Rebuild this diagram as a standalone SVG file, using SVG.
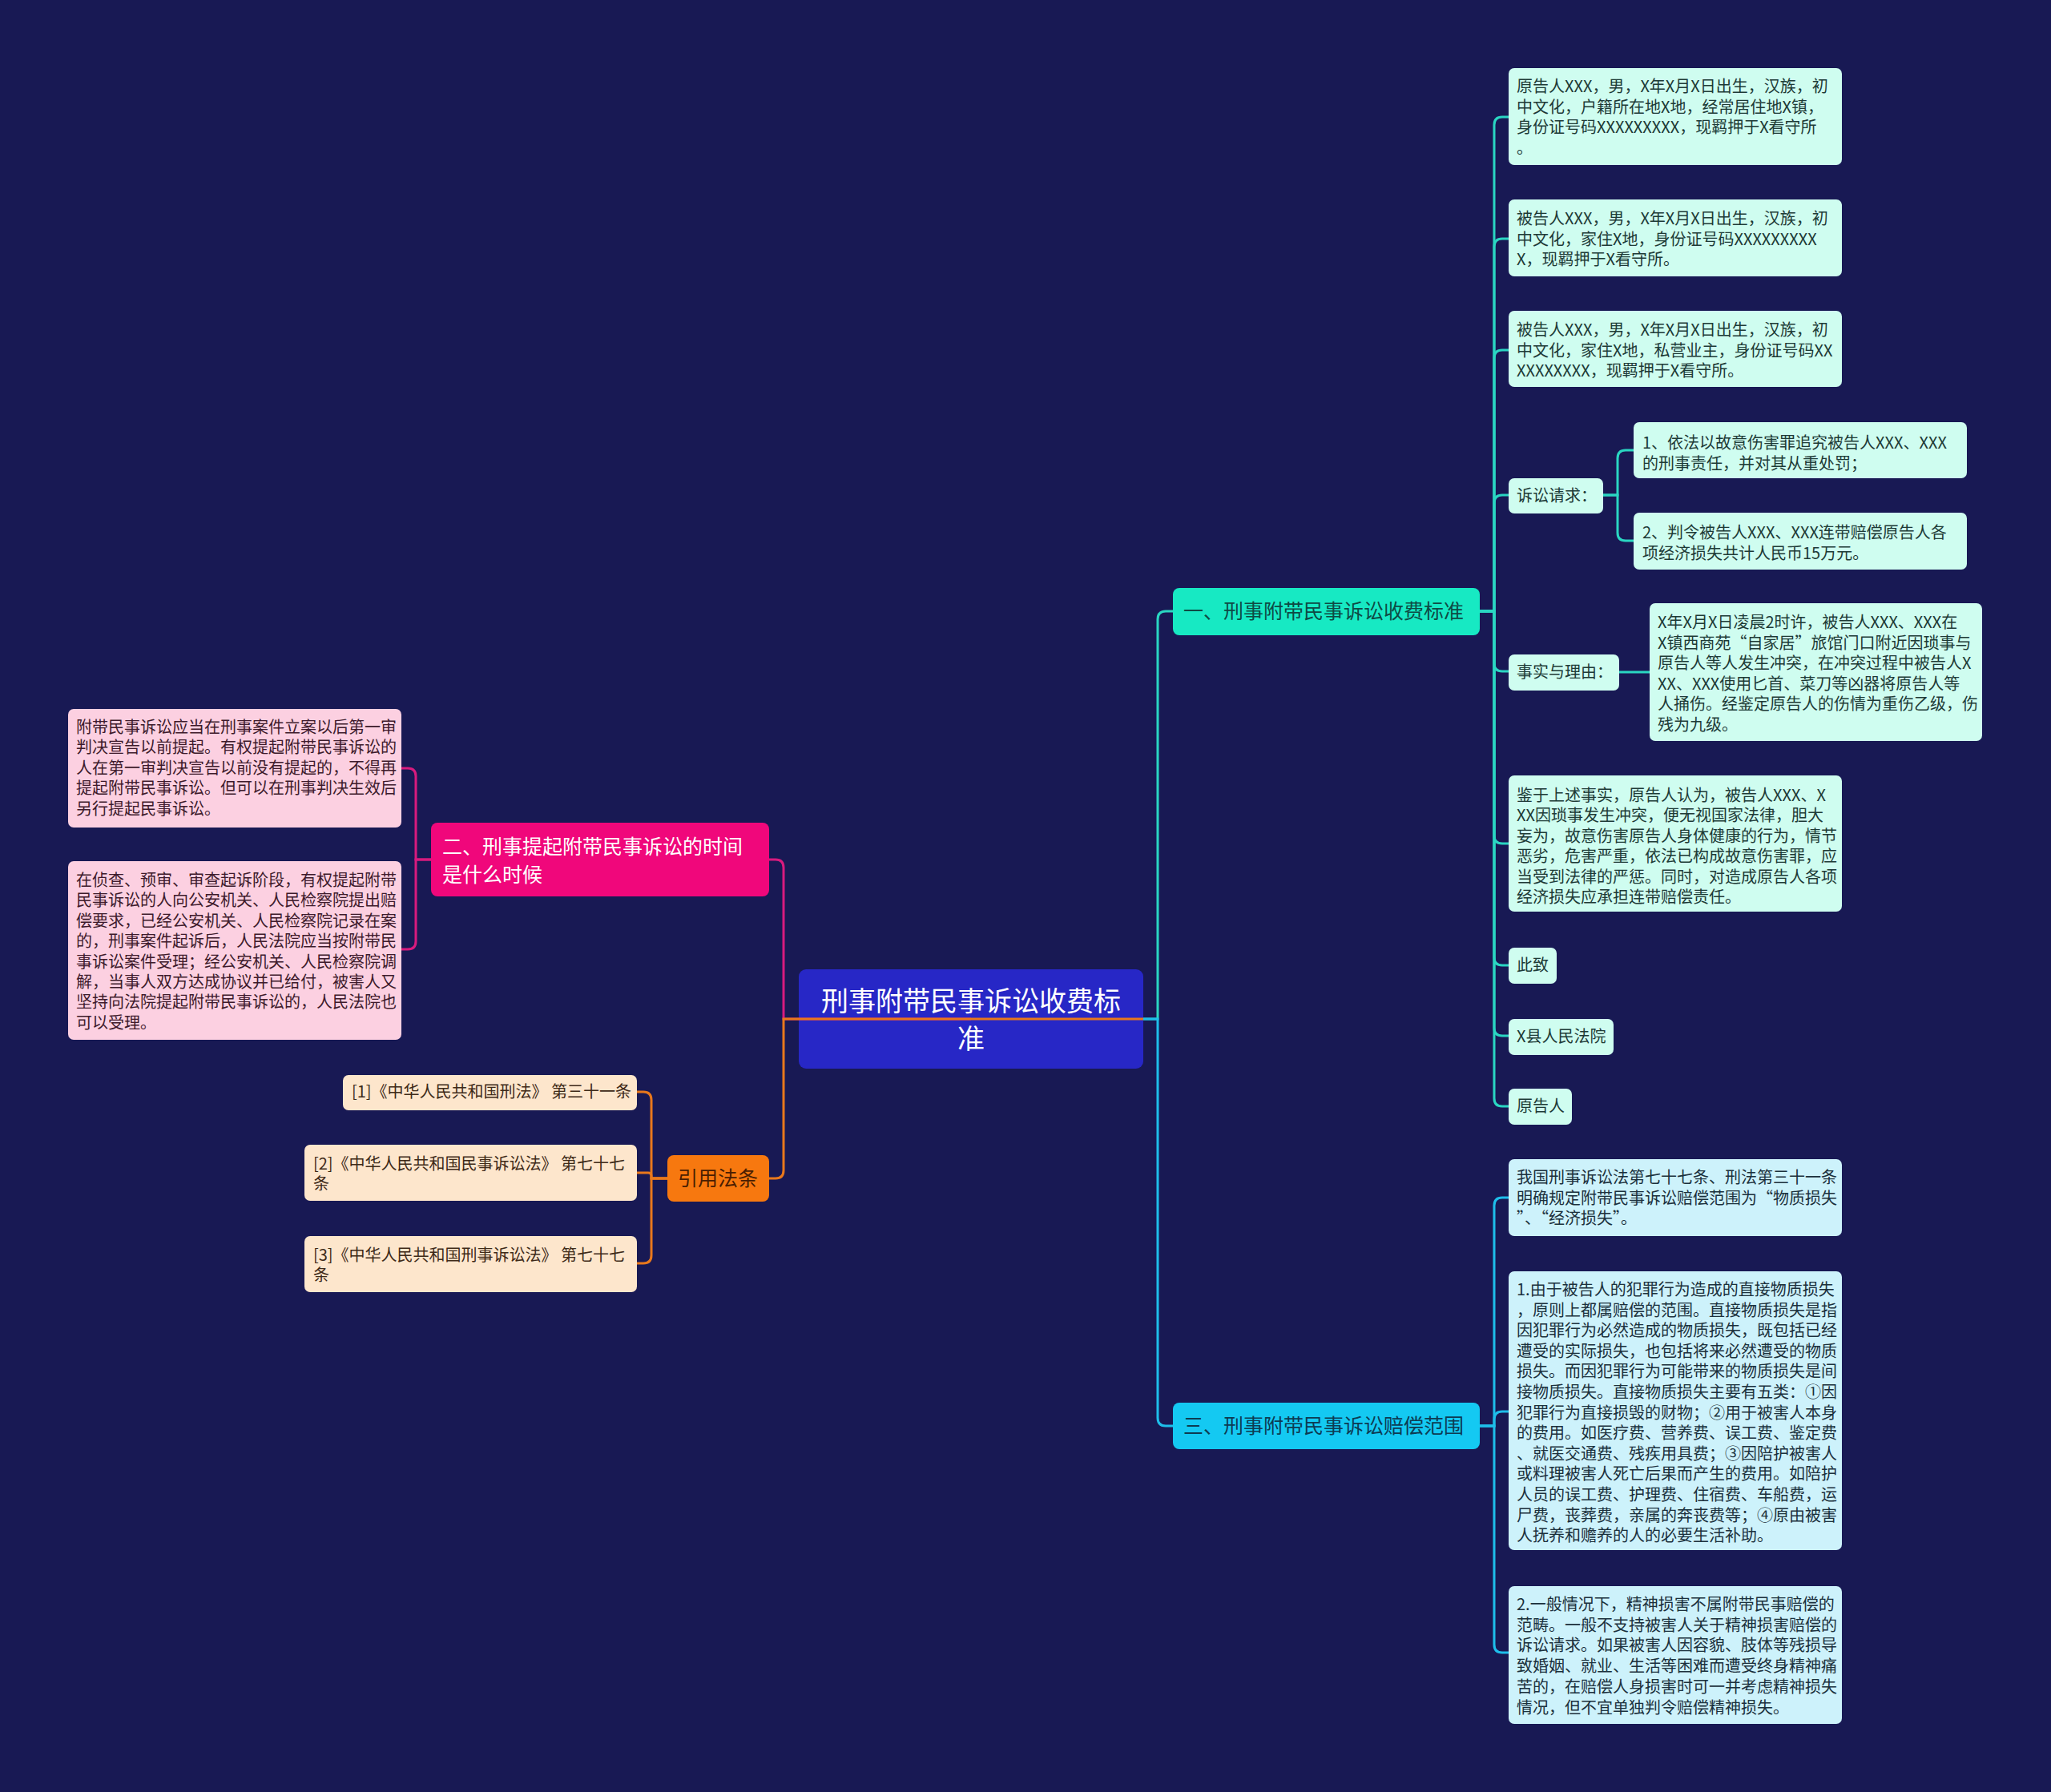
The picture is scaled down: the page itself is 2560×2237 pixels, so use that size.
<svg xmlns="http://www.w3.org/2000/svg" width="2560" height="2237" viewBox="0 0 2560 2237">
<style>
text{font-family:"Noto Sans CJK SC","Liberation Sans",sans-serif}
.s20{font-size:20px}
.s25{font-size:25px}
.s34{font-size:34px}
.mint rect{fill:#cffdf0}.mint text{fill:#1d3a36}
.sky rect{fill:#cdf2fb}.sky text{fill:#1b303c}
.rose rect{fill:#fcd0e1}.rose text{fill:#3d1a2b}
.peach rect{fill:#fde6cc}.peach text{fill:#3e2a18}
.c{fill:none;stroke-width:3}
.cg{stroke:#2ad6c2}.cb{stroke:#1ebeea}.cp{stroke:#d81b7e}.co{stroke:#e8781c}
</style>
<rect width="2560" height="2237" fill="#181954"/>

<g id="root"><rect x="997" y="1210" width="430" height="124" rx="9" fill="#2727c6"/>
<text class="s34" fill="#ffffff" text-anchor="middle"><tspan x="1212" y="1262">刑事附带民事诉讼收费标</tspan><tspan x="1212" y="1309">准</tspan></text></g>

<g id="b1"><rect x="1464" y="734" width="383" height="59" rx="8" fill="#17e9c3"/>
<text class="s25" x="1477" y="772" fill="#0e4a44">一、刑事附带民事诉讼收费标准</text></g>

<g id="b1n1" class="mint"><rect x="1883" y="85" width="416" height="121" rx="7"/>
<text class="s20"><tspan x="1893" y="115">原告人XXX，男，X年X月X日出生，汉族，初</tspan><tspan x="1893" dy="25.6">中文化，户籍所在地X地，经常居住地X镇，</tspan><tspan x="1893" dy="25.6">身份证号码XXXXXXXXX，现羁押于X看守所</tspan><tspan x="1893" dy="25.6">。</tspan></text></g>

<g id="b1n2" class="mint"><rect x="1883" y="249" width="416" height="96" rx="7"/>
<text class="s20"><tspan x="1893" y="280">被告人XXX，男，X年X月X日出生，汉族，初</tspan><tspan x="1893" dy="25.6">中文化，家住X地，身份证号码XXXXXXXXX</tspan><tspan x="1893" dy="25.6">X，现羁押于X看守所。</tspan></text></g>

<g id="b1n3" class="mint"><rect x="1883" y="388" width="416" height="95" rx="7"/>
<text class="s20"><tspan x="1893" y="419">被告人XXX，男，X年X月X日出生，汉族，初</tspan><tspan x="1893" dy="25.6">中文化，家住X地，私营业主，身份证号码XX</tspan><tspan x="1893" dy="25.6">XXXXXXXX，现羁押于X看守所。</tspan></text></g>

<g id="b1n4" class="mint"><rect x="1883" y="597" width="118" height="44" rx="7"/>
<text class="s20" x="1893" y="626">诉讼请求：</text></g>

<g id="b1n4a" class="mint"><rect x="2039" y="527" width="416" height="70" rx="7"/>
<text class="s20"><tspan x="2050" y="560">1、依法以故意伤害罪追究被告人XXX、XXX</tspan><tspan x="2050" dy="25.6">的刑事责任，并对其从重处罚；</tspan></text></g>

<g id="b1n4b" class="mint"><rect x="2039" y="640" width="416" height="71" rx="7"/>
<text class="s20"><tspan x="2050" y="672">2、判令被告人XXX、XXX连带赔偿原告人各</tspan><tspan x="2050" dy="25.6">项经济损失共计人民币15万元。</tspan></text></g>

<g id="b1n5" class="mint"><rect x="1883" y="817" width="138" height="45" rx="7"/>
<text class="s20" x="1893" y="846">事实与理由：</text></g>

<g id="b1n5a" class="mint"><rect x="2059" y="753" width="415" height="172" rx="7"/>
<text class="s20"><tspan x="2069" y="784">X年X月X日凌晨2时许，被告人XXX、XXX在</tspan><tspan x="2069" dy="25.6">X镇西商苑“自家居”旅馆门口附近因琐事与</tspan><tspan x="2069" dy="25.6">原告人等人发生冲突，在冲突过程中被告人X</tspan><tspan x="2069" dy="25.6">XX、XXX使用匕首、菜刀等凶器将原告人等</tspan><tspan x="2069" dy="25.6">人捅伤。经鉴定原告人的伤情为重伤乙级，伤</tspan><tspan x="2069" dy="25.6">残为九级。</tspan></text></g>

<g id="b1n6" class="mint"><rect x="1883" y="968" width="416" height="170" rx="7"/>
<text class="s20"><tspan x="1893" y="1000">鉴于上述事实，原告人认为，被告人XXX、X</tspan><tspan x="1893" dy="25.4">XX因琐事发生冲突，便无视国家法律，胆大</tspan><tspan x="1893" dy="25.4">妄为，故意伤害原告人身体健康的行为，情节</tspan><tspan x="1893" dy="25.4">恶劣，危害严重，依法已构成故意伤害罪，应</tspan><tspan x="1893" dy="25.4">当受到法律的严惩。同时，对造成原告人各项</tspan><tspan x="1893" dy="25.4">经济损失应承担连带赔偿责任。</tspan></text></g>

<g id="b1n7" class="mint"><rect x="1883" y="1183" width="60" height="45" rx="7"/>
<text class="s20" x="1893" y="1212">此致</text></g>

<g id="b1n8" class="mint"><rect x="1883" y="1272" width="131" height="45" rx="7"/>
<text class="s20" x="1893" y="1301">X县人民法院</text></g>

<g id="b1n9" class="mint"><rect x="1883" y="1359" width="79" height="45" rx="7"/>
<text class="s20" x="1893" y="1388">原告人</text></g>

<g id="b3"><rect x="1464" y="1751" width="383" height="58" rx="8" fill="#14c9f2"/>
<text class="s25" x="1477" y="1789" fill="#0d3b52">三、刑事附带民事诉讼赔偿范围</text></g>

<g id="b3n1" class="sky"><rect x="1883" y="1447" width="416" height="96" rx="7"/>
<text class="s20"><tspan x="1893" y="1477">我国刑事诉讼法第七十七条、刑法第三十一条</tspan><tspan x="1893" dy="25.6">明确规定附带民事诉讼赔偿范围为“物质损失</tspan><tspan x="1893" dy="25.6">”、“经济损失”。</tspan></text></g>

<g id="b3n2" class="sky"><rect x="1883" y="1587" width="416" height="348" rx="7"/>
<text class="s20"><tspan x="1893" y="1617">1.由于被告人的犯罪行为造成的直接物质损失</tspan><tspan x="1893" dy="25.6">，原则上都属赔偿的范围。直接物质损失是指</tspan><tspan x="1893" dy="25.6">因犯罪行为必然造成的物质损失，既包括已经</tspan><tspan x="1893" dy="25.6">遭受的实际损失，也包括将来必然遭受的物质</tspan><tspan x="1893" dy="25.6">损失。而因犯罪行为可能带来的物质损失是间</tspan><tspan x="1893" dy="25.6">接物质损失。直接物质损失主要有五类：①因</tspan><tspan x="1893" dy="25.6">犯罪行为直接损毁的财物；②用于被害人本身</tspan><tspan x="1893" dy="25.6">的费用。如医疗费、营养费、误工费、鉴定费</tspan><tspan x="1893" dy="25.6">、就医交通费、残疾用具费；③因陪护被害人</tspan><tspan x="1893" dy="25.6">或料理被害人死亡后果而产生的费用。如陪护</tspan><tspan x="1893" dy="25.6">人员的误工费、护理费、住宿费、车船费，运</tspan><tspan x="1893" dy="25.6">尸费，丧葬费，亲属的奔丧费等；④原由被害</tspan><tspan x="1893" dy="25.6">人抚养和赡养的人的必要生活补助。</tspan></text></g>

<g id="b3n3" class="sky"><rect x="1883" y="1980" width="416" height="172" rx="7"/>
<text class="s20"><tspan x="1893" y="2010">2.一般情况下，精神损害不属附带民事赔偿的</tspan><tspan x="1893" dy="25.7">范畴。一般不支持被害人关于精神损害赔偿的</tspan><tspan x="1893" dy="25.7">诉讼请求。如果被害人因容貌、肢体等残损导</tspan><tspan x="1893" dy="25.7">致婚姻、就业、生活等困难而遭受终身精神痛</tspan><tspan x="1893" dy="25.7">苦的，在赔偿人身损害时可一并考虑精神损失</tspan><tspan x="1893" dy="25.7">情况，但不宜单独判令赔偿精神损失。</tspan></text></g>

<g id="b2"><rect x="538" y="1027" width="422" height="92" rx="8" fill="#f0077b"/>
<text class="s25" fill="#ffffff"><tspan x="552" y="1066">二、刑事提起附带民事诉讼的时间</tspan><tspan x="552" y="1101">是什么时候</tspan></text></g>

<g id="b2n1" class="rose"><rect x="85" y="885" width="416" height="148" rx="7"/>
<text class="s20"><tspan x="95" y="915">附带民事诉讼应当在刑事案件立案以后第一审</tspan><tspan x="95" dy="25.4">判决宣告以前提起。有权提起附带民事诉讼的</tspan><tspan x="95" dy="25.4">人在第一审判决宣告以前没有提起的，不得再</tspan><tspan x="95" dy="25.4">提起附带民事诉讼。但可以在刑事判决生效后</tspan><tspan x="95" dy="25.4">另行提起民事诉讼。</tspan></text></g>

<g id="b2n2" class="rose"><rect x="85" y="1075" width="416" height="223" rx="7"/>
<text class="s20"><tspan x="95" y="1106">在侦查、预审、审查起诉阶段，有权提起附带</tspan><tspan x="95" dy="25.4">民事诉讼的人向公安机关、人民检察院提出赔</tspan><tspan x="95" dy="25.4">偿要求，已经公安机关、人民检察院记录在案</tspan><tspan x="95" dy="25.4">的，刑事案件起诉后，人民法院应当按附带民</tspan><tspan x="95" dy="25.4">事诉讼案件受理；经公安机关、人民检察院调</tspan><tspan x="95" dy="25.4">解，当事人双方达成协议并已给付，被害人又</tspan><tspan x="95" dy="25.4">坚持向法院提起附带民事诉讼的，人民法院也</tspan><tspan x="95" dy="25.4">可以受理。</tspan></text></g>

<g id="b4"><rect x="833" y="1442" width="127" height="58" rx="8" fill="#f7780f"/>
<text class="s25" x="896" y="1480" fill="#4a1e02" text-anchor="middle">引用法条</text></g>

<g id="b4n1" class="peach"><rect x="428" y="1342" width="367" height="44" rx="7"/>
<text class="s20" x="439" y="1370">[1]《中华人民共和国刑法》 第三十一条</text></g>

<g id="b4n2" class="peach"><rect x="380" y="1429" width="415" height="70" rx="7"/>
<text class="s20"><tspan x="391" y="1460">[2]《中华人民共和国民事诉讼法》 第七十七</tspan><tspan x="391" dy="25">条</tspan></text></g>

<g id="b4n3" class="peach"><rect x="380" y="1543" width="415" height="70" rx="7"/>
<text class="s20"><tspan x="391" y="1574">[3]《中华人民共和国刑事诉讼法》 第七十七</tspan><tspan x="391" dy="25">条</tspan></text></g>

<g id="connectors">
<path class="c cp" d="M1212,1272 H978 V1083 Q978,1073 968,1073 H960"/>
<path class="c co" d="M1427,1272 H978 V1461 Q978,1471 968,1471 H960"/>
<path class="c cg" d="M1427,1272 H1445 V773 Q1445,763 1455,763 H1464"/>
<path class="c cb" d="M1427,1272 H1445 V1770 Q1445,1780 1455,1780 H1464"/>
<path class="c cg" d="M1847,763 H1865 V156 Q1865,146 1875,146 H1883"/>
<path class="c cg" d="M1847,763 H1865 V308 Q1865,298 1875,298 H1883"/>
<path class="c cg" d="M1847,763 H1865 V447 Q1865,437 1875,437 H1883"/>
<path class="c cg" d="M1847,763 H1865 V628 Q1865,618 1875,618 H1883"/>
<path class="c cg" d="M1847,763 H1865 V828 Q1865,838 1875,838 H1883"/>
<path class="c cg" d="M1847,763 H1865 V1043 Q1865,1053 1875,1053 H1883"/>
<path class="c cg" d="M1847,763 H1865 V1195 Q1865,1205 1875,1205 H1883"/>
<path class="c cg" d="M1847,763 H1865 V1283 Q1865,1293 1875,1293 H1883"/>
<path class="c cg" d="M1847,763 H1865 V1371 Q1865,1381 1875,1381 H1883"/>
<path class="c cg" d="M2001,618 H2019 V572 Q2019,562 2029,562 H2039"/>
<path class="c cg" d="M2001,618 H2019 V665 Q2019,675 2029,675 H2039"/>
<path class="c cg" d="M2021,839 H2059"/>
<path class="c cb" d="M1847,1780 H1865 V1505 Q1865,1495 1875,1495 H1883"/>
<path class="c cb" d="M1847,1780 H1865 V1772 Q1865,1762 1875,1762 H1883"/>
<path class="c cb" d="M1847,1780 H1865 V2053 Q1865,2063 1875,2063 H1883"/>
<path class="c cp" d="M538,1073 H519 V969 Q519,959 509,959 H501"/>
<path class="c cp" d="M538,1073 H519 V1175 Q519,1185 509,1185 H501"/>
<path class="c co" d="M833,1471 H813 V1373 Q813,1363 803,1363 H795"/>
<path class="c co" d="M833,1471 H813 V1468 Q813,1464 809,1464 H795"/>
<path class="c co" d="M833,1471 H813 V1567 Q813,1577 803,1577 H795"/>
</g>
</svg>
